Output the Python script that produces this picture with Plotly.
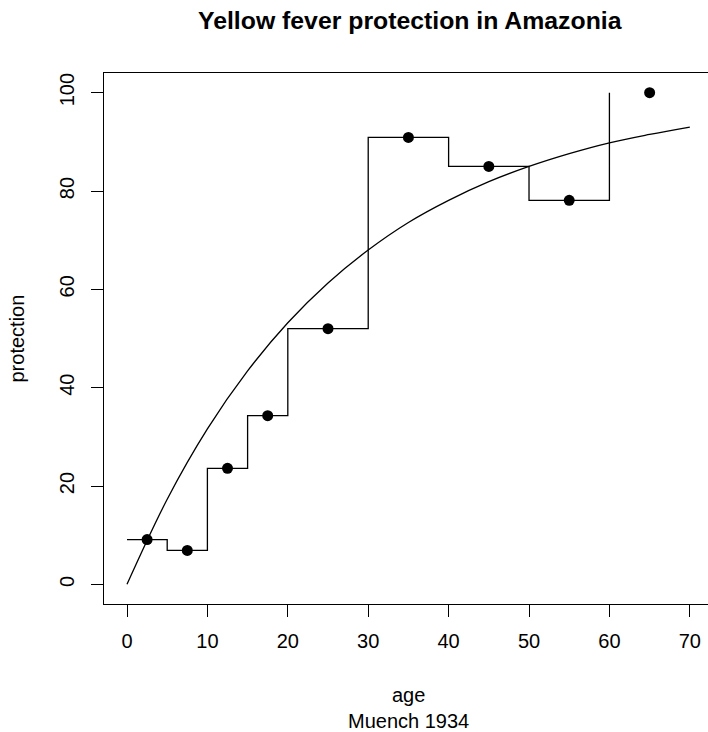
import plotly.graph_objects as go

# Age group boundaries (start of each group) and observed protection (%)
step_age = [0, 5, 10, 15, 20, 30, 40, 50, 60]
mid_age = [2.5, 7.5, 12.5, 17.5, 25, 35, 45, 55, 65]
protection = [9.1, 6.9, 23.6, 34.3, 52.0, 90.9, 85.0, 78.1, 100.0]

# Fitted curve
curve_age = [0, 5, 10, 15, 20, 25, 30, 35, 40, 45, 50, 55, 60, 65, 70]
curve_prot = [0, 17.3, 31.6, 43.4, 53.2, 61.3, 68.0, 73.6, 78.1, 81.9, 85.0, 87.6, 89.8, 91.5, 93.0]

x_ticks = [0, 10, 20, 30, 40, 50, 60, 70]
y_ticks = [0, 20, 40, 60, 80, 100]

FONT = "Liberation Sans, Arial, Helvetica, sans-serif"

fig = go.Figure()
fig.add_trace(go.Scatter(x=step_age, y=protection, mode="lines",
                         line=dict(shape="hv", color="black", width=1.3),
                         showlegend=False, hoverinfo="skip"))
fig.add_trace(go.Scatter(x=curve_age, y=curve_prot, mode="lines",
                         line=dict(shape="spline", color="black", width=1.3),
                         showlegend=False, hoverinfo="skip"))
fig.add_trace(go.Scatter(x=mid_age, y=protection, mode="markers",
                         marker=dict(color="black", size=11),
                         showlegend=False))

# plot area pixels: x 104..708, y 73..604
def px(xp):
    return (xp - 104) / 604.0
def py(yp):
    return (604 - yp) / 531.0

fig.update_layout(
    width=708, height=732,
    margin=dict(l=104, r=0, t=73, b=128, pad=0),
    paper_bgcolor="white", plot_bgcolor="white",
    font=dict(family=FONT, size=20, color="black"),
    xaxis=dict(range=[-2.86, 72.26], tickvals=x_ticks, ticktext=[str(v) for v in x_ticks],
               showgrid=False, zeroline=False, showline=True, mirror=True,
               linecolor="black", linewidth=1.3, ticks="outside", ticklen=12,
               tickwidth=1.3, tickcolor="black", ticklabelstandoff=7),
    yaxis=dict(range=[-4, 104], tickvals=y_ticks, ticktext=[str(v) for v in y_ticks],
               showgrid=False, zeroline=False, showline=True, mirror=False,
               linecolor="black", linewidth=1.3, ticks="outside", ticklen=12,
               tickwidth=1.3, tickcolor="black", tickangle=-90, ticklabelstandoff=9),
    annotations=[
        dict(text="<b>Yellow fever protection in Amazonia</b>", x=px(410), y=py(20.5),
             xref="paper", yref="paper", showarrow=False, xanchor="center", yanchor="middle",
             font=dict(size=24.8, family=FONT)),
        dict(text="age", x=px(408), y=py(694.7), xref="paper", yref="paper",
             showarrow=False, xanchor="center", yanchor="middle"),
        dict(text="Muench 1934", x=px(408), y=py(720.5), xref="paper", yref="paper",
             showarrow=False, xanchor="center", yanchor="middle"),
        dict(text="protection", x=px(16), y=0.5, xref="paper", yref="paper",
             showarrow=False, xanchor="center", yanchor="middle", textangle=-90),
    ],
)

fig.write_html("out.html")
